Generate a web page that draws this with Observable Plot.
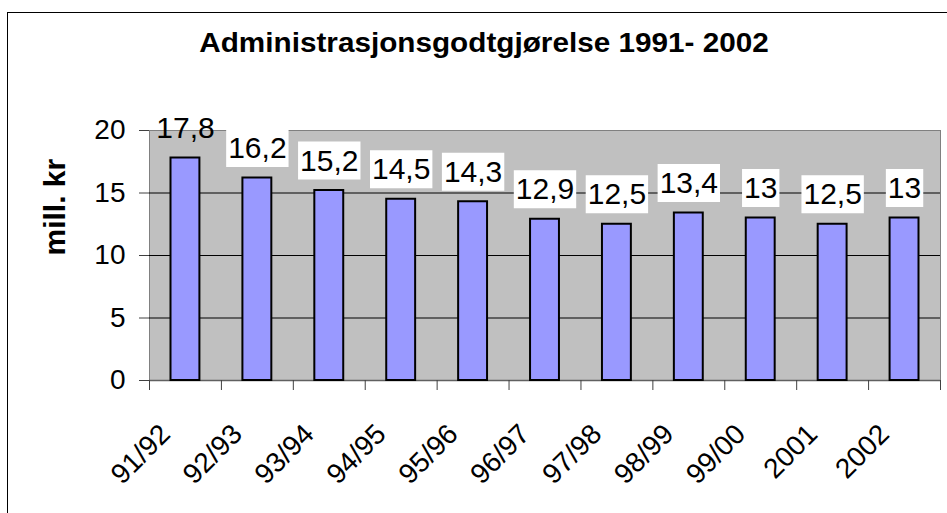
<!DOCTYPE html>
<html><head><meta charset="utf-8">
<script src="https://cdn.jsdelivr.net/npm/d3@7"></script>
<script src="https://cdn.jsdelivr.net/npm/@observablehq/plot@0.6"></script>
<style>
body{margin:0;background:#fff;}
#wrap{position:relative;width:947px;height:513px;overflow:hidden;font-family:Arial,"Liberation Sans",sans-serif;}
#chart{position:absolute;left:0;top:0;}
#frame{position:absolute;left:7px;top:12px;width:980px;height:560px;border-left:1.5px solid #000;border-top:1.5px solid #000;pointer-events:none;}
#title{position:absolute;top:30px;left:0;width:968px;text-align:center;font-weight:bold;font-size:27px;line-height:27px;white-space:nowrap;transform:scaleX(1.1);transform-origin:484px 0;}
</style></head><body>
<div id="wrap"><div id="chart"></div><div id="frame"></div><div id="title"></div></div>
<script>
const title = "Administrasjonsgodtgjørelse 1991- 2002";
const yLabel = "mill. kr";
const categories = ["91/92","92/93","93/94","94/95","95/96","96/97","97/98","98/99","99/00","2001","2002"];
const values = [17.8,16.2,15.2,14.5,14.3,12.9,12.5,13.4,13,12.5,13];
const valueLabels = ["17,8","16,2","15,2","14,5","14,3","12,9","12,5","13,4","13","12,5","13"];
const yTicks = [0,5,10,15,20];

document.getElementById("title").textContent = title;

const data = categories.map((c, i) => ({i, c, v: values[i], lab: valueLabels[i]}));
const boundaries = d3.range(categories.length + 1);
const marginTop = 130;

const chart = Plot.plot({
  width: 947, height: 513,
  marginLeft: 149, marginRight: 7, marginTop, marginBottom: 133,
  style: {fontFamily: "Arial, 'Liberation Sans', sans-serif", background: "transparent", color: "#000"},
  x: {type: "linear", domain: [0, categories.length], axis: null},
  y: {domain: [0, 20], axis: null},
  marks: [
    Plot.frame({fill: "#c0c0c0", stroke: "#808080"}),
    Plot.gridY(yTicks.filter(t => t > 0 && t < 20), {stroke: "#000", strokeOpacity: 1}),
    Plot.ruleY([0], {stroke: "#606060", strokeWidth: 1.5}),
    Plot.rectY(data, {x1: "i", x2: d => d.i + 1, y: "v", insetLeft: 21.5, insetRight: 21.5,
      fill: "#9999ff", stroke: "#000", strokeWidth: 2}),
    Plot.axisY(yTicks, {tickSize: 10, tickPadding: 14, fontSize: 28, stroke: "#404040", label: null}),
    Plot.axisX(boundaries, {tickSize: 10, tickFormat: () => "", stroke: "#404040", label: null}),
    Plot.text(data, {x: d => d.i + 0.5, y: 0, text: "c", rotate: -45, textAnchor: "end",
      lineAnchor: "middle", dx: -20, dy: 49, fontSize: 28}),
    Plot.text(data, {x: d => d.i + 0.5, y: "v", text: "lab", lineAnchor: "bottom", dy: -20,
      fontSize: 30, ariaDescription: "value-labels"}),
    Plot.text([yLabel], {frameAnchor: "left", dx: -94, rotate: -90, fontWeight: "bold", fontSize: 30})
  ]
});
document.getElementById("chart").append(chart);

// white label boxes behind the value labels (as in the source chart)
d3.select(chart).selectAll('g[aria-description="value-labels"] text').each(function () {
  const bb = this.getBBox();
  const t = this.getAttribute("transform");
  const m = t ? t.match(/translate\(([-\d.]+),\s*([-\d.]+)\)/) : null;
  const gt = this.parentNode.getAttribute("transform");
  const gm = gt ? gt.match(/translate\(([-\d.]+),\s*([-\d.]+)\)/) : null;
  const top = bb.y + (m ? +m[2] : 0) + (gm ? +gm[2] : 0) - 2;
  if (top < marginTop - 10) return;
  const r = document.createElementNS("http://www.w3.org/2000/svg", "rect");
  r.setAttribute("x", bb.x - 2);
  r.setAttribute("y", bb.y - 2);
  r.setAttribute("width", bb.width + 4);
  r.setAttribute("height", bb.height + 5);
  r.setAttribute("fill", "#fff");
  r.setAttribute("stroke", "none");
  if (t) r.setAttribute("transform", t);
  this.parentNode.insertBefore(r, this);
});
</script>
</body></html>
